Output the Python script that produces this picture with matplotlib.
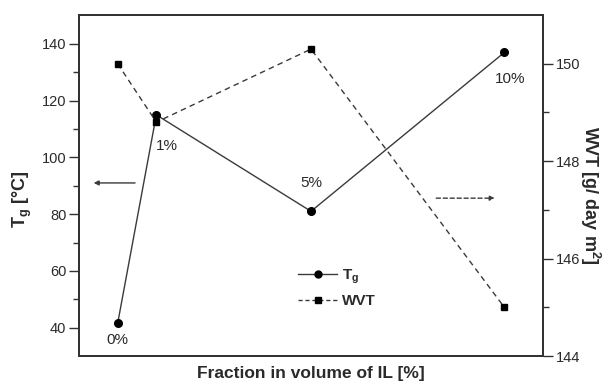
import matplotlib
matplotlib.use("Agg")
import matplotlib.pyplot as plt
from matplotlib.lines import Line2D
from matplotlib.ticker import FixedLocator

plt.rcParams['font.family'] = ['Liberation Sans', 'DejaVu Sans']
plt.rcParams['mathtext.fontset'] = 'custom'
plt.rcParams['mathtext.rm'] = 'Liberation Sans'
plt.rcParams['mathtext.bf'] = 'Liberation Sans:bold'
plt.rcParams['mathtext.it'] = 'Liberation Sans:italic'

# IL volume fraction [%]
il_fraction = [0, 1, 5, 10]
point_labels = ['0%', '1%', '5%', '10%']
# Glass transition temperature [°C]
tg_values = [41.5, 115, 81, 137]
# Water vapour transmission [g/ day m^2]
wvt_values = [150.0, 148.8, 150.3, 145.0]

tg_ticks = [40, 60, 80, 100, 120, 140]
tg_minor = [50, 70, 90, 110, 130]
wvt_ticks = [144, 146, 148, 150]
wvt_minor = [145, 147, 149]

spine_col = '#333333'
line_col = '#3a3a3a'
text_col = '#2a2a2a'

fig = plt.figure(figsize=(6.08, 3.88), dpi=100)
ax = fig.add_axes([79/608, 1-356/388, (543-79)/608, (356-15)/388])
ax2 = ax.twinx()

ax.set_xlim(-1, 11)
ax.set_ylim(30, 150.2)
ax2.set_ylim(144, 151)

ax.plot(il_fraction, tg_values, '-', color=line_col, lw=1.0,
        marker='o', ms=5.5, mfc='black', mec='black', zorder=3)
ax2.plot(il_fraction, wvt_values, '--', color=line_col, lw=1.0,
         dashes=(4, 3), marker='s', ms=5.0, mfc='black', mec='black', zorder=3)

# Point annotations (offsets in pixels)
offsets = [(0, -17), (11, -31), (0, 28), (6, -27)]
for x, y, lab, off in zip(il_fraction, tg_values, point_labels, offsets):
    ax.annotate(lab, (x, y), xytext=off, textcoords='offset pixels',
                ha='center', va='center', fontsize=11, color=text_col)

# Arrows indicating which axis belongs to which series
ax.annotate('', xy=(-0.62, 91), xytext=(0.45, 91),
            arrowprops=dict(arrowstyle='-|>', color=line_col, lw=1.0,
                            mutation_scale=7, shrinkA=0, shrinkB=0))
ax2.annotate('', xy=(9.75, 147.24), xytext=(8.24, 147.24),
             arrowprops=dict(arrowstyle='-|>', color=line_col, lw=1.0,
                             linestyle=(0, (3, 2)),
                             mutation_scale=7, shrinkA=0, shrinkB=0))

# Axes styling
for a in (ax, ax2):
    for s in a.spines.values():
        s.set_color(spine_col)
        s.set_linewidth(1.4)

ax.set_xticks([])
ax.set_yticks(tg_ticks)
ax.yaxis.set_minor_locator(FixedLocator(tg_minor))
ax.tick_params(axis='y', which='major', direction='out', length=7, width=1.0,
               color=spine_col, labelsize=10.5, labelcolor=text_col, pad=2)
ax.tick_params(axis='y', which='minor', direction='out', length=4, width=1.0,
               color=spine_col)

ax2.set_yticks(wvt_ticks)
ax2.yaxis.set_minor_locator(FixedLocator(wvt_minor))
ax2.tick_params(axis='y', which='major', direction='out', length=7, width=1.0,
                color=spine_col, labelsize=10.5, labelcolor=text_col, pad=2)
ax2.tick_params(axis='y', which='minor', direction='out', length=4, width=1.0,
                color=spine_col)

ax.set_xlabel('Fraction in volume of IL [%]', fontsize=12.5, fontweight='bold',
              color=text_col, labelpad=7)
ax.set_ylabel(r'T$_{\mathbf{g}}$ [°C]', fontsize=13, fontweight='bold',
              color=text_col, labelpad=6)
ax.yaxis.label.set_y(0.46)
ax2.set_ylabel(r'WVT [g/ day m$^{\mathbf{2}}$]', fontsize=13, fontweight='bold',
               color=text_col, rotation=-90, labelpad=16)
ax2.yaxis.label.set_y(0.47)

# Legend
handles = [
    Line2D([], [], color=line_col, lw=1.0, marker='o', ms=5, mfc='black', mec='black'),
    Line2D([], [], color=line_col, lw=1.0, ls='--', dashes=(3, 2), marker='s', ms=4.5,
           mfc='black', mec='black'),
]
leg = ax.legend(handles, [r'T$_{\mathbf{g}}$', 'WVT'], frameon=False,
                loc='center left', bbox_to_anchor=((284-79)/464, (356-288)/341),
                handlelength=2.6, handletextpad=0.3, labelspacing=0.55,
                prop={'size': 11, 'weight': 'bold'})
for t in leg.get_texts():
    t.set_color(text_col)

fig.savefig('out.png', dpi=100)
